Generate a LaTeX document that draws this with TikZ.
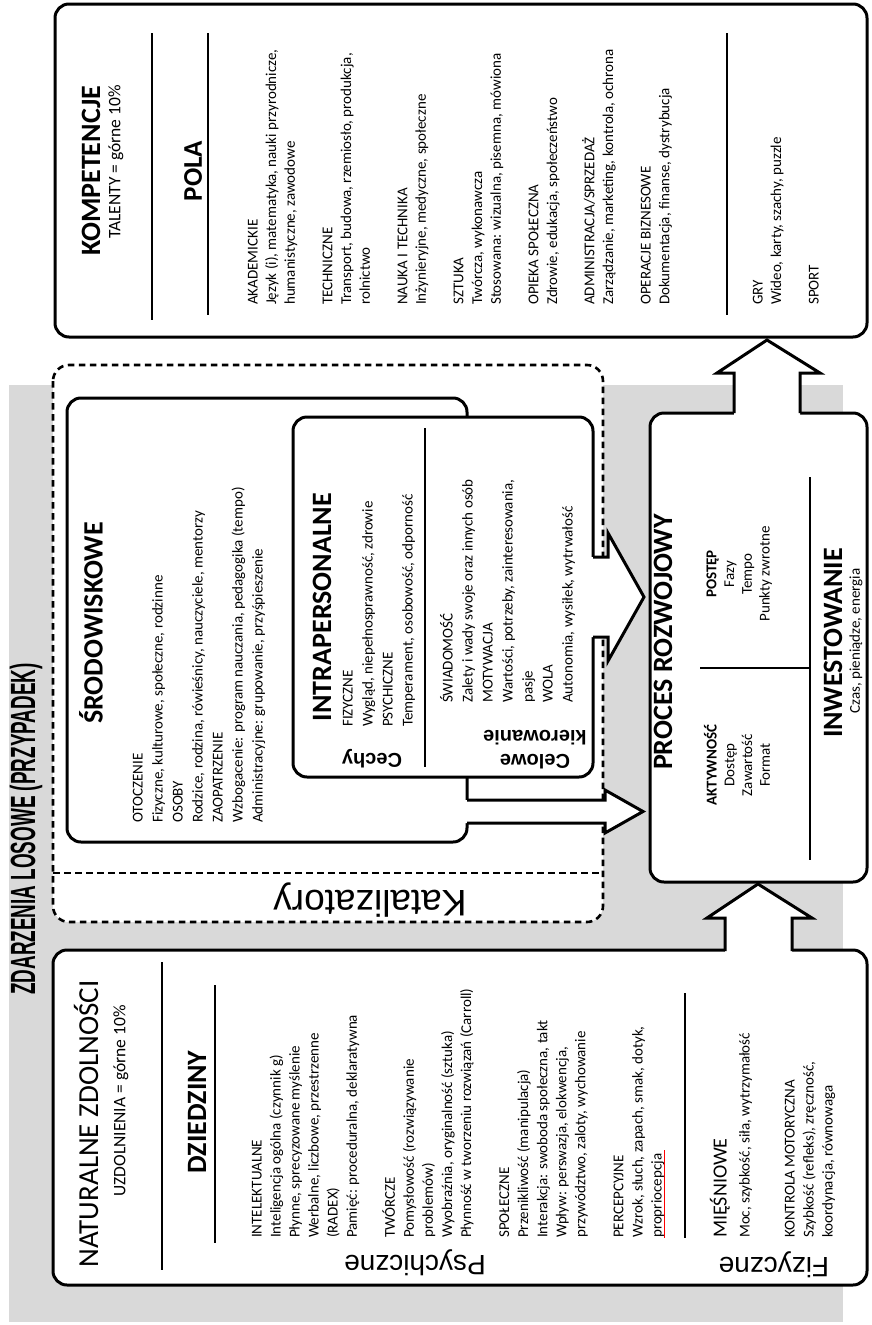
\documentclass[tikz,border=0pt]{standalone}
\usepackage{graphicx}
\usepackage{fontspec}
\setmainfont{Carlito}
\newfontfamily\arialf{Liberation Sans}
\begin{document}
\begin{tikzpicture}[x=1pt,y=-1pt,
  box/.style={draw=black, line width=3pt, rounded corners=14pt, fill=white},
  dbox/.style={draw=black, line width=2.6pt, dash pattern=on 6.5pt off 4.5pt, rounded corners=16pt, fill=white},
  dline/.style={draw=black, line width=2.6pt, dash pattern=on 6.5pt off 4.5pt},
  sepline/.style={draw=black, line width=1.5pt},
  arrfill/.style={fill=white},
  arrline/.style={draw=black, line width=3pt, line join=miter},
  ttl/.style={rotate=90, inner sep=0pt, font=\fontsize{28}{30}\selectfont\bfseries},
  subttl/.style={rotate=90, inner sep=0pt, font=\fontsize{17.5}{20}\selectfont},
  lst/.style={rotate=90, inner sep=0pt, anchor=north west, align=left},
  clst/.style={rotate=90, inner sep=0pt, anchor=north, align=center, font=\fontsize{15}{17.7}\selectfont},
  lab/.style={rotate=180, inner sep=0pt, font=\arialf\fontsize{28}{30}\selectfont},
  blab/.style={rotate=180, inner sep=0pt, align=center, font=\arialf\bfseries\fontsize{20}{24}\selectfont}
]
\useasboundingbox (0,0) rectangle (871,1325);

% gray shadow band
\fill[gray!30] (9,385) rectangle (843,1322);

% chance label
\node[rotate=90, inner sep=0pt, font=\arialf\bfseries\fontsize{35}{40}\selectfont] (chance) at (26,829) {\scalebox{0.54}[1]{ZDARZENIA LOSOWE (PRZYPADEK)}};

% top box: competencies
\draw[box] (55,4) rectangle (867,337);
\draw[sepline] (152,33) -- (152,320);
\draw[sepline] (208,33) -- (208,315);
\draw[sepline] (727,33) -- (727,315);
\node[ttl] (komp) at (91,171) {KOMPETENCJE};
\node[subttl] (talenty) at (116,162) {TALENTY = górne 10\%};
\node[ttl, font=\fontsize{27}{30}\selectfont\bfseries] (pola) at (193,171) {POLA};
\node[lst, font=\fontsize{15}{18.72}\selectfont] (polalist) at (244.2,305) {\strut AKADEMICKIE\\ Język (i), matematyka, nauki przyrodnicze,\\ humanistyczne, zawodowe\\[18.72pt] TECHNICZNE\\ Transport, budowa, rzemiosło, produkcja,\\ rolnictwo\\[18.72pt] NAUKA I TECHNIKA\\ Inżynieryjne, medyczne, społeczne\\[18.72pt] SZTUKA\\ Twórcza, wykonawcza\\ Stosowana: wizualna, pisemna, mówiona\\[18.72pt] OPIEKA SPOŁECZNA\\ Zdrowie, edukacja, społeczeństwo\\[18.72pt] ADMINISTRACJA/SPRZEDAŻ\\ Zarządzanie, marketing, kontrola, ochrona\\[18.72pt] OPERACJE BIZNESOWE\\ Dokumentacja, finanse, dystrybucja};
\node[lst, font=\fontsize{15}{18.72}\selectfont] (grylist) at (749.2,305) {\strut GRY\\ Wideo, karty, szachy, puzzle\\[18.72pt] SPORT};

% catalysts dashed box
\draw[dbox] (53,365) rectangle (603,922);
\draw[dline] (53,873) -- (603,873);
\node[lab, font=\arialf\fontsize{37}{40}\selectfont] (katal) at (370,900) {Katalizatory};

% environmental box
\draw[box] (67,398) rectangle (467,842);
\node[ttl] (srod) at (91,623) {ŚRODOWISKOWE};
\node[lst, font=\fontsize{15}{20}\selectfont] (srodlist) at (128.3,823) {\strut OTOCZENIE\\ Fizyczne, kulturowe, społeczne, rodzinne\\ OSOBY\\ Rodzice, rodzina, rówieśnicy, nauczyciele, mentorzy\\ ZAOPATRZENIE\\ Wzbogacenie: program nauczania, pedagogika (tempo)\\ Administracyjne: grupowanie, przyśpieszenie};

% intrapersonal box
\draw[box] (293,417) rectangle (593,777);
\draw[sepline] (425,428) -- (425,767);
\node[ttl] (intra) at (322,607) {INTRAPERSONALNE};
\node[lst, font=\fontsize{15}{20}\selectfont] (cechylist) at (338.3,727) {\strut FIZYCZNE\\ Wygląd, niepełnosprawność, zdrowie\\ PSYCHICZNE\\ Temperament, osobowość, odporność};
\node[lst, font=\fontsize{15}{20}\selectfont] (celowelist) at (438.3,703) {\strut ŚWIADOMOŚĆ\\ Zalety i wady swoje oraz innych osób\\ MOTYWACJA\\ Wartości, potrzeby, zainteresowania,\\ pasje\\ WOLA\\ Autonomia, wysiłek, wytrwałość};
\node[blab] (cechy) at (372,759) {Cechy};
\node[blab] (celowe) at (535,750) {Celowe\\kierowanie};

% arrow environment -> process
\fill[arrfill] (465,800) -- (605,800) -- (605,790) -- (643,811.5) -- (605,833) -- (605,823) -- (465,823) -- cycle;
\draw[arrline] (467,800) -- (605,800) -- (605,790) -- (643,811.5) -- (605,833) -- (605,823) -- (467,823);

% arrow intrapersonal -> process
\fill[arrfill] (591,557) -- (608,557) -- (608,533) -- (644,597) -- (608,661) -- (608,637) -- (591,637) -- cycle;
\draw[arrline] (593,557) -- (608,557) -- (608,533) -- (644,597) -- (608,661) -- (608,637) -- (593,637);

% process box
\draw[box] (650,413) rectangle (867,882);
\draw[sepline] (810,477) -- (810,860);
\draw[sepline] (700,668) -- (810,668);
\node[ttl] (proc) at (663,642) {PROCES ROZWOJOWY};
\node[clst] (akt) at (703.9,765) {\strut\textbf{AKTYWNOŚĆ}\\ Dostęp\\ Zawartość\\ Format};
\node[clst] (post) at (703.9,574) {\strut\textbf{POSTĘP}\\ Fazy\\ Tempo\\ Punkty zwrotne};
\node[ttl] (inw) at (833,643) {INWESTOWANIE};
\node[rotate=90, inner sep=0pt, font=\fontsize{15}{18}\selectfont] (czas) at (856,641) {Czas, pieniądze, energia};

% arrow process -> competencies
\fill[arrfill] (734,416) -- (734,373) -- (717,373) -- (767,340) -- (820,373) -- (800,373) -- (800,416) -- cycle;
\draw[arrline] (734,413) -- (734,373) -- (717,373) -- (767,340) -- (820,373) -- (800,373) -- (800,413);

% bottom box: natural abilities
\draw[box] (53,950) rectangle (867,1285);
\draw[sepline] (162,962) -- (162,1270);
\draw[sepline] (215,985) -- (215,1243);
\draw[sepline] (685,993) -- (685,1238);
\node[ttl, font=\fontsize{29}{32}\selectfont] (natur) at (86,1124) {NATURALNE ZDOLNOŚCI};
\node[subttl] (uzd) at (121,1101) {UZDOLNIENIA = górne 10\%};
\node[ttl] (dzie) at (197,1112) {DZIEDZINY};
\node[lst, font=\fontsize{15}{19.05}\selectfont] (psylist) at (248,1238) {\strut INTELEKTUALNE\\ Inteligencja ogólna (czynnik g)\\ Płynne, sprecyzowane myślenie\\ Werbalne, liczbowe, przestrzenne\\ (RADEX)\\ Pamięć: proceduralna, deklaratywna\\[19.05pt] TWÓRCZE\\ Pomysłowość (rozwiązywanie\\ problemów)\\ Wyobraźnia, oryginalność (sztuka)\\ Płynność w tworzeniu rozwiązań (Carroll)\\[19.05pt] SPOŁECZNE\\ Przenikliwość (manipulacja)\\ Interakcja: swoboda społeczna, takt\\ Wpływ: perswazja, elokwencja,\\ przywództwo, zaloty, wychowanie\\[19.05pt] PERCEPCYJNE\\ Wzrok, słuch, zapach, smak, dotyk,\\ propriocepcja};
\draw[red, line width=0.8pt] (664,1150) -- (664,1238);
\node[lst, font=\fontsize{20}{24}\selectfont] (mies) at (709.6,1238) {\strut MIĘŚNIOWE};
\node[lst, font=\fontsize{15}{19}\selectfont] (fizlist) at (736,1238) {\strut Moc, szybkość, siła, wytrzymałość\\[26pt] KONTROLA MOTORYCZNA\\ Szybkość (refleks), zręczność,\\ koordynacja, równowaga};
\node[lab] (psych) at (415,1263) {Psychiczne};
\node[lab] (fiz) at (774,1265) {Fizyczne};

% arrow abilities -> process
\fill[arrfill] (725,953) -- (725,918) -- (707,918) -- (758,884) -- (812,918) -- (792,918) -- (792,953) -- cycle;
\draw[arrline] (725,951) -- (725,918) -- (707,918) -- (758,884) -- (812,918) -- (792,918) -- (792,951);
\end{tikzpicture}
\end{document}
